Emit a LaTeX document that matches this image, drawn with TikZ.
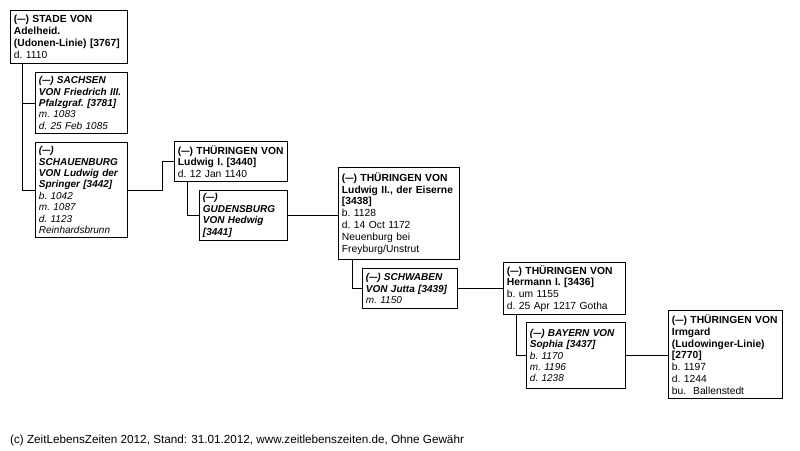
\documentclass[tikz,border=0pt]{standalone}
\usepackage{fontspec}
\setmainfont{Liberation Sans}
\usepackage{tikz}
\usetikzlibrary{calc}
\newcommand{\persfont}{\fontsize{10.3}{11.8}\selectfont\frenchspacing}
\newcommand{\spousefont}{\fontsize{10}{11.4}\selectfont\frenchspacing\itshape}
\newcommand{\unk}{(\scalebox{0.8}[1]{---})}

\begin{document}
\begin{tikzpicture}[x=1pt, y=-1pt,
    person/.style={draw, line width=0.9pt, anchor=north west, align=left,
        inner xsep=3.5pt, inner ysep=2pt, font=\persfont},
    spouse/.style={person, font=\spousefont},
    link/.style={line width=0.9pt}]
    \useasboundingbox (0,0) rectangle (800,450);

    % Generation 1
    \node[person, text width=110pt, minimum height=53pt] (stade) at (10,10)
        {\bfseries \unk{} STADE VON\\Adelheid.\\(Udonen-Linie) [3767]\\\mdseries d. 1110};
    \node[spouse, text width=85pt, minimum height=61pt] (sachsen) at (35,72)
        {\bfseries \unk{} SACHSEN\\VON Friedrich III.\\Pfalzgraf. [3781]\\\mdseries m. 1083\\d. 25 Feb 1085};
    \node[spouse, text width=85pt, minimum height=95pt] (schauenburg) at (35,142)
        {\bfseries \unk\\SCHAUENBURG\\VON~Ludwig~der\\Springer [3442]\\\mdseries b. 1042\\m. 1087\\d. 1123\\Reinhardsbrunn};

    % Generation 2
    \node[person, text width=106pt, minimum height=40pt] (ludwigI) at (174,141)
        {\bfseries \unk{} THÜRINGEN VON\\Ludwig I. [3440]\\\mdseries d. 12 Jan 1140};
    \node[spouse, text width=81pt, minimum height=50pt] (gudensburg) at (199,190)
        {\bfseries \unk\\GUDENSBURG\\VON Hedwig\\{[3441]}};

    % Generation 3
    \node[person, text width=114pt, minimum height=92pt] (ludwigII) at (338,167)
        {\bfseries \unk{} THÜRINGEN VON\\Ludwig II., der Eiserne\\{[3438]}\\\mdseries b. 1128\\d. 14 Oct 1172\\Neuenburg bei\\Freyburg/Unstrut};
    \node[spouse, text width=88pt, minimum height=40pt] (schwaben) at (362,268)
        {\bfseries \unk{} SCHWABEN\\VON Jutta [3439]\\\mdseries m. 1150};

    % Generation 4
    \node[person, text width=115pt, minimum height=52pt] (hermann) at (503,262)
        {\bfseries \unk{} THÜRINGEN VON\\Hermann I. [3436]\\\mdseries b. um 1155\\d. 25 Apr 1217 Gotha};
    \node[spouse, text width=92pt, minimum height=66pt] (bayern) at (526,322)
        {\bfseries \unk{} BAYERN VON\\Sophia [3437]\\\mdseries b. 1170\\m. 1196\\d. 1238};

    % Generation 5
    \node[person, text width=107pt, minimum height=88pt] (irmgard) at (668,310)
        {\bfseries \unk{} THÜRINGEN VON\\Irmgard\\(Ludowinger-Linie)\\{[2770]}\\\mdseries b. 1197\\d. 1244\\bu.\ \ Ballenstedt};

    % Lines
    \coordinate (stadeDrop) at ([xshift=12pt]stade.south west);
    \draw[link] (stadeDrop) |- (sachsen.west);
    \draw[link] (stadeDrop) |- (schauenburg.west);
    \draw[link] (schauenburg.east) -| ([xshift=-12pt]ludwigI.west) -- (ludwigI.west);
    \draw[link] ([xshift=13pt]ludwigI.south west) |- (gudensburg.west);
    \draw[link] (gudensburg.east) -- (gudensburg.east -| ludwigII.west);
    \draw[link] ([xshift=14pt]ludwigII.south west) |- (schwaben.west);
    \draw[link] (schwaben.east) -- (schwaben.east -| hermann.west);
    \draw[link] ([xshift=13pt]hermann.south west) |- (bayern.west);
    \draw[link] (bayern.east) -- (bayern.east -| irmgard.west);

    % Footer
    \node[anchor=west, inner sep=0pt, font=\fontsize{11.7}{14}\selectfont] (credit) at (10,440)
        {(c) ZeitLebensZeiten 2012, Stand: 31.01.2012, www.zeitlebenszeiten.de, Ohne Gewähr};
\end{tikzpicture}
\end{document}
